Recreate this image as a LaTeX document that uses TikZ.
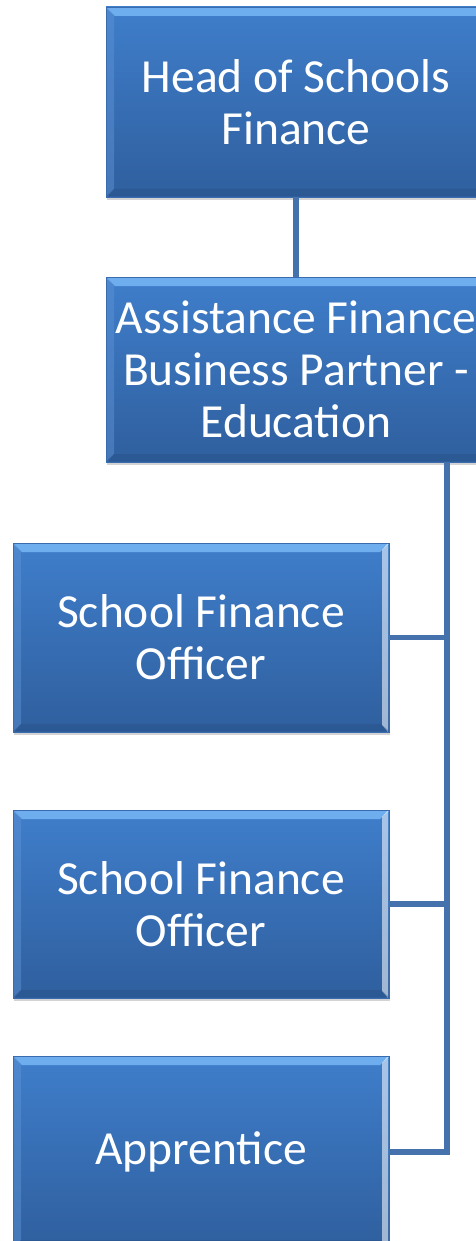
\documentclass[tikz,border=0pt]{standalone}
\usepackage{fontspec}
\setmainfont{Carlito}
\usetikzlibrary{shadows}
\definecolor{boxtop}{HTML}{3F7ECB}
\definecolor{boxbot}{HTML}{2F5F9E}
\definecolor{boxedge}{HTML}{3A6BAE}
\definecolor{bevel}{HTML}{6FAEEE}
\definecolor{linkcol}{HTML}{4571AC}
\tikzset{
  orgbox/.style={draw=boxedge, line width=0.8pt, top color=boxtop, bottom color=boxbot,
    text=white, align=center, inner sep=0pt, font=\fontsize{47.5}{52}\selectfont,
    drop shadow={opacity=0.35, shadow xshift=1pt, shadow yshift=-3pt},
    path picture={
      \fill[bevel] ([yshift=-1pt]path picture bounding box.north west) -- ([yshift=-1pt]path picture bounding box.north east)
        -- ([xshift=-9pt,yshift=-9pt]path picture bounding box.north east) -- ([xshift=9pt,yshift=-9pt]path picture bounding box.north west) -- cycle;
      \fill[white, opacity=0.55] ([xshift=-1pt]path picture bounding box.north east) -- ([xshift=-1pt]path picture bounding box.south east)
        -- ([xshift=-7pt,yshift=7pt]path picture bounding box.south east) -- ([xshift=-7pt,yshift=-7pt]path picture bounding box.north east) -- cycle;
      \fill[boxtop!85!white, opacity=0.5] ([xshift=1pt]path picture bounding box.north west) -- ([xshift=1pt]path picture bounding box.south west)
        -- ([xshift=8pt,yshift=8pt]path picture bounding box.south west) -- ([xshift=8pt,yshift=-8pt]path picture bounding box.north west) -- cycle;
      \fill[boxbot!80!black, opacity=0.35] ([yshift=1pt]path picture bounding box.south west) -- ([yshift=1pt]path picture bounding box.south east)
        -- ([xshift=-8pt,yshift=8pt]path picture bounding box.south east) -- ([xshift=8pt,yshift=8pt]path picture bounding box.south west) -- cycle;
    }},
  link/.style={draw=linkcol, line width=5.5pt}
}
\begin{document}
\begin{tikzpicture}[x=1pt,y=-1pt]
\useasboundingbox (0,0) rectangle (476,1241);
\clip (0,0) rectangle (476,1241);
\node[orgbox, minimum width=380pt, minimum height=190pt] (head) at (296,102) {Head of Schools\\Finance};
\node[orgbox, minimum width=380pt, minimum height=185pt] (assist) at (296,369.5) {Assistance Finance\\Business Partner -\\Education};
\node[orgbox, minimum width=376pt, minimum height=189pt] (sfo1) at (201,637.5) {School Finance\\Officer};
\node[orgbox, minimum width=376pt, minimum height=188pt] (sfo2) at (201,904) {School Finance\\Officer};
\node[orgbox, minimum width=376pt, minimum height=192pt] (appr) at (201,1152) {Apprentice};
\coordinate (bus) at (447,0);
\draw[link] (head.south) -- (assist.north);
\draw[link, line join=miter] (assist.south -| bus) -- (bus |- appr.east) -- (appr.east);
\draw[link] (sfo1.east) -- (sfo1.east -| bus);
\draw[link] (sfo2.east) -- (sfo2.east -| bus);
\end{tikzpicture}
\end{document}
